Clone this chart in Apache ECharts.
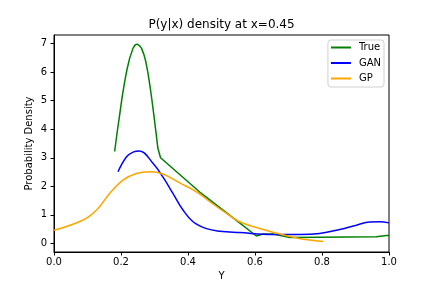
<!DOCTYPE html>
<html>
<head>
<meta charset="utf-8">
<script src="https://cdn.jsdelivr.net/npm/echarts@6/dist/echarts.min.js"></script>
<style>html,body{margin:0;padding:0;background:#fff}#c{width:432px;height:288px}</style>
</head>
<body>
<div id="c"></div>
<script>
const titleText = 'P(y|x) density at x=0.45';
const xName = 'Y';
const yName = 'Probability Density';
const xTicks = [0, 0.2, 0.4, 0.6, 0.8, 1.0];
const yTicks = [0, 1, 2, 3, 4, 5, 6, 7];
const seriesNames = ['True', 'GAN', 'GP'];

const trueX = [0.181, 0.188, 0.196, 0.203, 0.211, 0.218, 0.226, 0.236, 0.242, 0.248, 0.254, 0.261, 0.268, 0.274, 0.280, 0.286, 0.292, 0.298, 0.304, 0.310, 0.318, 0.435, 0.554, 0.604, 0.624, 0.654, 0.704, 0.962, 0.992, 1.0];
const trueY = [3.22, 3.85, 4.50, 5.10, 5.67, 6.10, 6.49, 6.84, 6.95, 6.98, 6.94, 6.84, 6.63, 6.37, 6.00, 5.55, 5.05, 4.50, 3.93, 3.34, 3.00, 1.80, 0.72, 0.26, 0.33, 0.33, 0.21, 0.23, 0.28, 0.28];

const ganX = [0.191, 0.216, 0.236, 0.255, 0.296, 0.325, 0.355, 0.385, 0.415, 0.455, 0.495, 0.554, 0.654, 0.733, 0.793, 0.853, 0.903, 0.942, 0.972, 1.0];
const ganY = [2.51, 3.03, 3.20, 3.24, 2.80, 2.33, 1.75, 1.17, 0.76, 0.52, 0.43, 0.38, 0.31, 0.31, 0.35, 0.49, 0.64, 0.75, 0.76, 0.72];

const gpX = [0.0, 0.087, 0.127, 0.166, 0.206, 0.246, 0.286, 0.325, 0.375, 0.425, 0.465, 0.515, 0.554, 0.614, 0.674, 0.724, 0.763, 0.803];
const gpY = [0.46, 0.82, 1.17, 1.75, 2.22, 2.45, 2.51, 2.43, 2.12, 1.81, 1.46, 1.05, 0.76, 0.52, 0.33, 0.19, 0.12, 0.07];

const colors = ['#008000', '#0000ff', '#ffa500'];
const zip = (xs, ys) => xs.map((x, i) => [x, ys[i]]);
const FONT = 'DejaVu Sans';

const chart = echarts.init(document.getElementById('c'), null, {renderer: 'canvas'});
chart.setOption({
  animation: false,
  backgroundColor: '#fff',
  textStyle: {fontFamily: FONT},
  graphic: [{
    type: 'text', x: 221.5, y: 24.5,
    style: {text: titleText, font: '12px "DejaVu Sans"', fill: '#000', textAlign: 'center', textVerticalAlign: 'middle'}
  }],
  grid: {left: 54, right: 43, top: 35, bottom: 36, show: true, borderColor: '#000', borderWidth: 1, backgroundColor: 'transparent'},
  legend: {
    data: seriesNames,
    orient: 'vertical',
    right: 48, top: 40,
    icon: 'rect', itemWidth: 20, itemHeight: 2,
    itemGap: 4.5,
    padding: [2, 3, 3, 3],
    borderColor: '#d0d0d0', borderWidth: 1, borderRadius: 3,
    backgroundColor: 'rgba(255,255,255,0.8)',
    textStyle: {fontFamily: FONT, fontSize: 10, color: '#000', lineHeight: 11, padding: [0, 0, 0, 3]}
  },
  xAxis: {
    type: 'value', min: 0, max: 1, interval: 0.2,
    name: xName, nameLocation: 'middle', nameGap: 19, nameMoveOverlap: false,
    nameTextStyle: {fontFamily: FONT, fontSize: 10, color: '#000'},
    axisLine: {show: true, onZero: false, lineStyle: {color: '#000', width: 1}},
    axisTick: {show: true, length: 3.5, lineStyle: {color: '#000', width: 1}, customValues: xTicks},
    axisLabel: {fontFamily: FONT, fontSize: 10, color: '#000', margin: 5, customValues: xTicks, formatter: v => v.toFixed(1)},
    splitLine: {show: false}
  },
  yAxis: {
    type: 'value', min: -0.3, max: 7.3,
    name: yName, nameLocation: 'middle', nameGap: 20, nameRotate: 90, nameMoveOverlap: false,
    nameTextStyle: {fontFamily: FONT, fontSize: 10, color: '#000'},
    axisLine: {show: true, onZero: false, lineStyle: {color: '#000', width: 1}},
    axisTick: {show: true, length: 3.5, lineStyle: {color: '#000', width: 1}, customValues: yTicks},
    axisLabel: {fontFamily: FONT, fontSize: 10, color: '#000', margin: 7, customValues: yTicks, formatter: v => String(v)},
    splitLine: {show: false}
  },
  series: [
    {name: seriesNames[0], type: 'line', data: zip(trueX, trueY), showSymbol: false, symbol: 'none', color: colors[0], lineStyle: {width: 1.5, color: colors[0]}},
    {name: seriesNames[1], type: 'line', data: zip(ganX, ganY), smooth: 0.4, showSymbol: false, symbol: 'none', color: colors[1], lineStyle: {width: 1.5, color: colors[1]}},
    {name: seriesNames[2], type: 'line', data: zip(gpX, gpY), smooth: 0.4, showSymbol: false, symbol: 'none', color: colors[2], lineStyle: {width: 1.5, color: colors[2]}}
  ]
});
</script>
</body>
</html>
